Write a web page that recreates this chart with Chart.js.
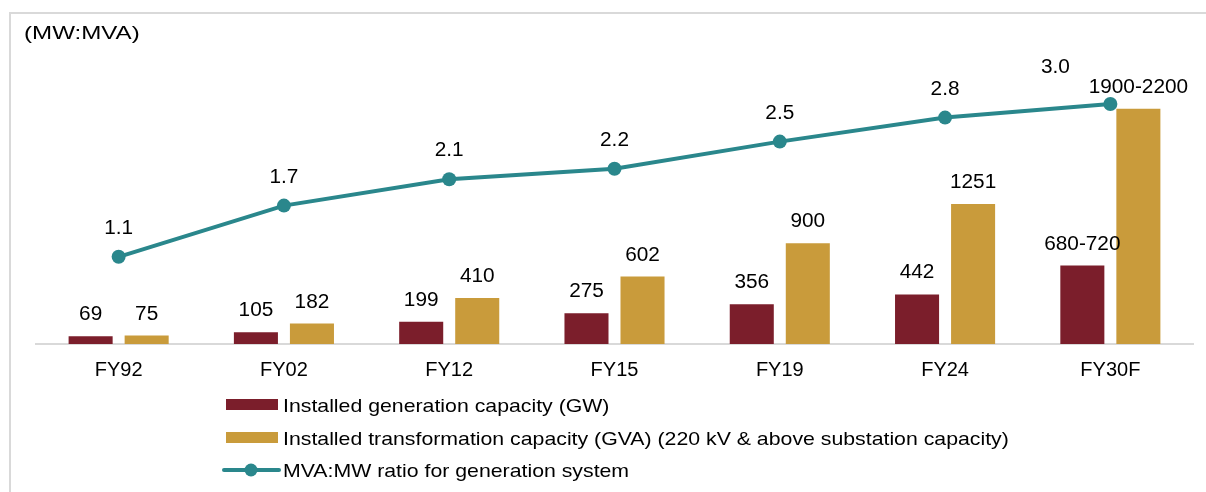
<!DOCTYPE html>
<html>
<head>
<meta charset="utf-8">
<script src="https://cdn.jsdelivr.net/npm/chart.js@4.4.0/dist/chart.umd.min.js"></script>
<style>
  html, body { margin: 0; padding: 0; background: #fff; }
  #wrap { position: relative; width: 1206px; height: 492px; }
</style>
</head>
<body>
<div id="wrap"><canvas id="chart"></canvas></div>
<script>
  const categories = ['FY92', 'FY02', 'FY12', 'FY15', 'FY19', 'FY24', 'FY30F'];
  const generationGW = [69, 105, 199, 275, 356, 442, 700];
  const transformationGVA = [75, 182, 410, 602, 900, 1251, 2100];
  const generationLabels = ['69', '105', '199', '275', '356', '442', '680-720'];
  const transformationLabels = ['75', '182', '410', '602', '900', '1251', '1900-2200'];
  const ratio = [1.09, 1.73, 2.06, 2.19, 2.53, 2.83, 3.0];
  const unitNote = '(MW:MVA)';

  const RED = '#7b1e2b';
  const GOLD = '#c99b3b';
  const TEAL = '#2a878c';
  const FONT = '"Liberation Sans", Arial, sans-serif';

  // the source text is drawn a bit wider than plain Arial, so allow a horizontal stretch
  function drawText(ctx, text, x, y, size, sx, align) {
    ctx.save();
    ctx.font = size + 'px ' + FONT;
    ctx.fillStyle = '#000';
    ctx.textAlign = align || 'center';
    ctx.textBaseline = 'alphabetic';
    ctx.translate(x, y);
    ctx.scale(sx, 1);
    ctx.fillText(text, 0, 0);
    ctx.restore();
  }

  const framePlugin = {
    id: 'frame',
    beforeDraw(chart) {
      const ctx = chart.ctx;
      ctx.save();
      ctx.fillStyle = '#d9d9d9';
      ctx.fillRect(9, 12, 2, chart.height - 12);
      ctx.fillRect(9, 12, chart.width - 9, 2);
      ctx.restore();
      drawText(ctx, unitNote, 24, 39, 19, 1.27, 'left');
    }
  };

  const labelPlugin = {
    id: 'labels',
    afterDatasetsDraw(chart) {
      const ctx = chart.ctx;
      chart.data.datasets.forEach((ds, i) => {
        const meta = chart.getDatasetMeta(i);
        meta.data.forEach((el, j) => {
          if (ds.type === 'line') {
            const last = j === ds.data.length - 1;
            const dx = last ? -55 : 0;
            const dy = last ? -31 : -23;
            drawText(ctx, ds.data[j].toFixed(1), el.x + dx, el.y + dy, 20, 1.04);
          } else {
            drawText(ctx, ds.valueLabels[j], el.x, el.y - 16, 20, 1.04);
          }
        });
      });

      const xs = chart.scales.x;
      chart.data.labels.forEach((c, i) => {
        drawText(ctx, c, xs.getPixelForValue(i), 376, 20, 1.0);
      });

      // legend, one row per series
      const rows = [412, 445, 477];
      chart.data.datasets.forEach((ds, i) => {
        const base = rows[i];
        ctx.save();
        if (ds.type === 'line') {
          ctx.strokeStyle = ds.borderColor;
          ctx.lineWidth = 4;
          ctx.lineCap = 'round';
          ctx.beginPath();
          ctx.moveTo(224, base - 7);
          ctx.lineTo(279, base - 7);
          ctx.stroke();
          ctx.fillStyle = ds.borderColor;
          ctx.beginPath();
          ctx.arc(251, base - 7, 6.5, 0, Math.PI * 2);
          ctx.fill();
        } else {
          ctx.fillStyle = ds.backgroundColor;
          ctx.fillRect(226, base - 13, 52, 11);
        }
        ctx.restore();
        drawText(ctx, ds.label, 283, base, 19, 1.12, 'left');
      });
    }
  };

  new Chart(document.getElementById('chart'), {
    data: {
      labels: categories,
      datasets: [
        {
          type: 'bar',
          label: 'Installed generation capacity (GW)',
          data: generationGW,
          valueLabels: generationLabels,
          backgroundColor: RED,
          borderWidth: 0,
          categoryPercentage: 0.678,
          barPercentage: 0.786,
          yAxisID: 'y',
          order: 1
        },
        {
          type: 'bar',
          label: 'Installed transformation capacity (GVA) (220 kV & above substation capacity)',
          data: transformationGVA,
          valueLabels: transformationLabels,
          backgroundColor: GOLD,
          borderWidth: 0,
          categoryPercentage: 0.678,
          barPercentage: 0.786,
          yAxisID: 'y',
          order: 1
        },
        {
          type: 'line',
          label: 'MVA:MW ratio for generation system',
          data: ratio,
          borderColor: TEAL,
          backgroundColor: TEAL,
          borderWidth: 4,
          tension: 0,
          pointRadius: 7,
          pointBackgroundColor: TEAL,
          pointBorderWidth: 0,
          yAxisID: 'y2',
          order: 0
        }
      ]
    },
    options: {
      responsive: true,
      maintainAspectRatio: false,
      animation: false,
      events: [],
      layout: { padding: { left: 36, right: 13, top: 64, bottom: 148 } },
      plugins: { legend: { display: false }, tooltip: { enabled: false } },
      scales: {
        x: {
          grid: { display: false, drawTicks: false },
          border: { display: true, color: '#d9d9d9', width: 2 },
          ticks: { display: false }
        },
        y: { display: false, min: 0, max: 2500 },
        y2: { display: false, min: 0, max: 3.5, position: 'right' }
      }
    },
    plugins: [framePlugin, labelPlugin]
  });
</script>
</body>
</html>
